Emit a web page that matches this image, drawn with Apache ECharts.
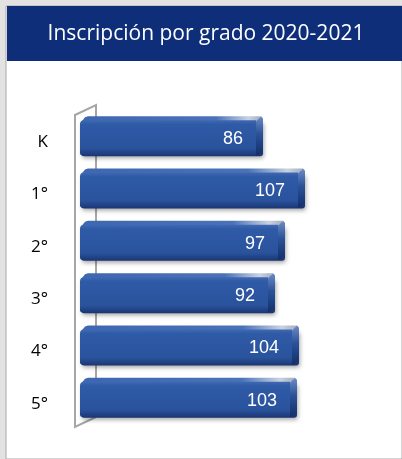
<!DOCTYPE html>
<html>
<head>
<meta charset="utf-8">
<script src="https://cdn.jsdelivr.net/npm/echarts@6/dist/echarts.min.js"></script>
<style>
  html, body { margin: 0; padding: 0; background: #e2e2e2; }
  #chart { width: 402px; height: 459px; }
</style>
</head>
<body>
<div id="chart"></div>
<script>
const grades = ['K', '1°', '2°', '3°', '4°', '5°'];
const enrollment = [86, 107, 97, 92, 104, 103];
const chartTitle = 'Inscripción por grado 2020-2021';

// layout
const GRID_LEFT = 80, GRID_TOP = 116, GRID_BOTTOM = 29, GRID_RIGHT = 11;
const X_MIN = -5.5, X_MAX = 150;
const DEPTH_X = 7, DEPTH_Y = 4;

const chart = echarts.init(document.getElementById('chart'));

function renderBar(params, api) {
  const v = api.value(0);
  const c = api.value(1);
  const start = api.coord([X_MIN, c]);
  const end = api.coord([v, c]);
  const cy = start[1] - 5;
  const x0 = start[0];
  const x1 = end[0] - DEPTH_X;
  const yTop = cy - 17, yBot = cy + 18;

  return {
    type: 'group',
    children: [
      {
        type: 'rect',
        shape: { x: x0 + 1, y: yTop + 1, width: x1 - x0 + DEPTH_X - 1, height: yBot - yTop, r: 3 },
        style: { fill: '#1b3672', shadowBlur: 4, shadowOffsetY: 2, shadowOffsetX: 1, shadowColor: 'rgba(0,0,0,0.35)' }
      },
      {
        type: 'polygon',
        shape: { points: [[x1, yTop], [x1 + DEPTH_X - 2, yTop - DEPTH_Y], [x1 + DEPTH_X, yTop - DEPTH_Y + 2], [x1 + DEPTH_X, yBot - DEPTH_Y - 2], [x1 + 2, yBot], [x1, yBot]] },
        style: {
          fill: new echarts.graphic.LinearGradient(0, 0, 0, 1, [
            { offset: 0, color: '#6d8cc6' },
            { offset: 0.45, color: '#2b5299' },
            { offset: 1, color: '#132f69' }
          ])
        }
      },
      {
        type: 'polygon',
        shape: { points: [[x0 + 1, yTop + 2], [x0 + 5, yTop - DEPTH_Y + 1], [x0 + 8, yTop - DEPTH_Y], [x1 + DEPTH_X - 2, yTop - DEPTH_Y], [x1, yTop + 1]] },
        style: {
          fill: new echarts.graphic.LinearGradient(0, 0, 1, 0, [
            { offset: 0, color: '#3e67b1' },
            { offset: 0.75, color: '#4a72b8' },
            { offset: 0.93, color: '#c9d2e2' },
            { offset: 1, color: '#a2acbd' }
          ])
        }
      },
      {
        type: 'rect',
        shape: { x: x0, y: yTop, width: x1 - x0, height: yBot - yTop, r: [4, 0, 2, 2] },
        style: {
          fill: new echarts.graphic.LinearGradient(0, 0, 0, 1, [
            { offset: 0, color: '#4069b3' },
            { offset: 0.12, color: '#2f5aa6' },
            { offset: 0.8, color: '#2a539d' },
            { offset: 1, color: '#1c3a79' }
          ])
        }
      },
      {
        type: 'text',
        style: {
          x: x1 - 13, y: cy + 2,
          text: String(v),
          fill: '#ffffff',
          font: '18px "Liberation Sans", Arial, sans-serif',
          align: 'right', verticalAlign: 'middle'
        }
      }
    ]
  };
}

// wall bracket of the 3D axis
const wallLeft = GRID_LEFT - 5, wallBack = GRID_LEFT + 16;
const wallTop = 105, wallBottom = 427;

chart.setOption({
  animation: false,
  backgroundColor: '#e2e2e2',
  graphic: [
    { type: 'rect', z: -10, shape: { x: 6, y: 6, width: 396, height: 453 }, style: { fill: '#ffffff', stroke: '#a8a8a8', lineWidth: 1 } },
    { type: 'rect', z: -9, shape: { x: 7, y: 6, width: 395, height: 55 }, style: { fill: '#0e2e79' } },
    { type: 'text', z: -8, style: { x: 206, y: 34, text: chartTitle, fill: '#ffffff', align: 'center', verticalAlign: 'middle',
      font: '21px "Open Sans", sans-serif' } },
    { type: 'polyline', z: -5, shape: { points: [[wallBack, wallBottom - 10], [wallBack, wallTop], [wallLeft, wallTop + 10], [wallLeft, wallBottom], [wallBack, wallBottom - 10]] },
      style: { stroke: '#a6a6a6', lineWidth: 2, fill: null } }
  ],
  grid: { left: GRID_LEFT, right: GRID_RIGHT, top: GRID_TOP, bottom: GRID_BOTTOM },
  xAxis: {
    type: 'value', min: X_MIN, max: X_MAX, show: false
  },
  yAxis: {
    type: 'category',
    data: grades,
    inverse: true,
    axisLine: { show: false },
    axisTick: { show: false },
    axisLabel: { color: '#000000', fontSize: 17, margin: 32, fontFamily: '"Open Sans", sans-serif' }
  },
  series: [{
    type: 'custom',
    renderItem: renderBar,
    encode: { x: 0, y: 1 },
    data: enrollment.map((v, i) => [v, i])
  }]
});
</script>
</body>
</html>
